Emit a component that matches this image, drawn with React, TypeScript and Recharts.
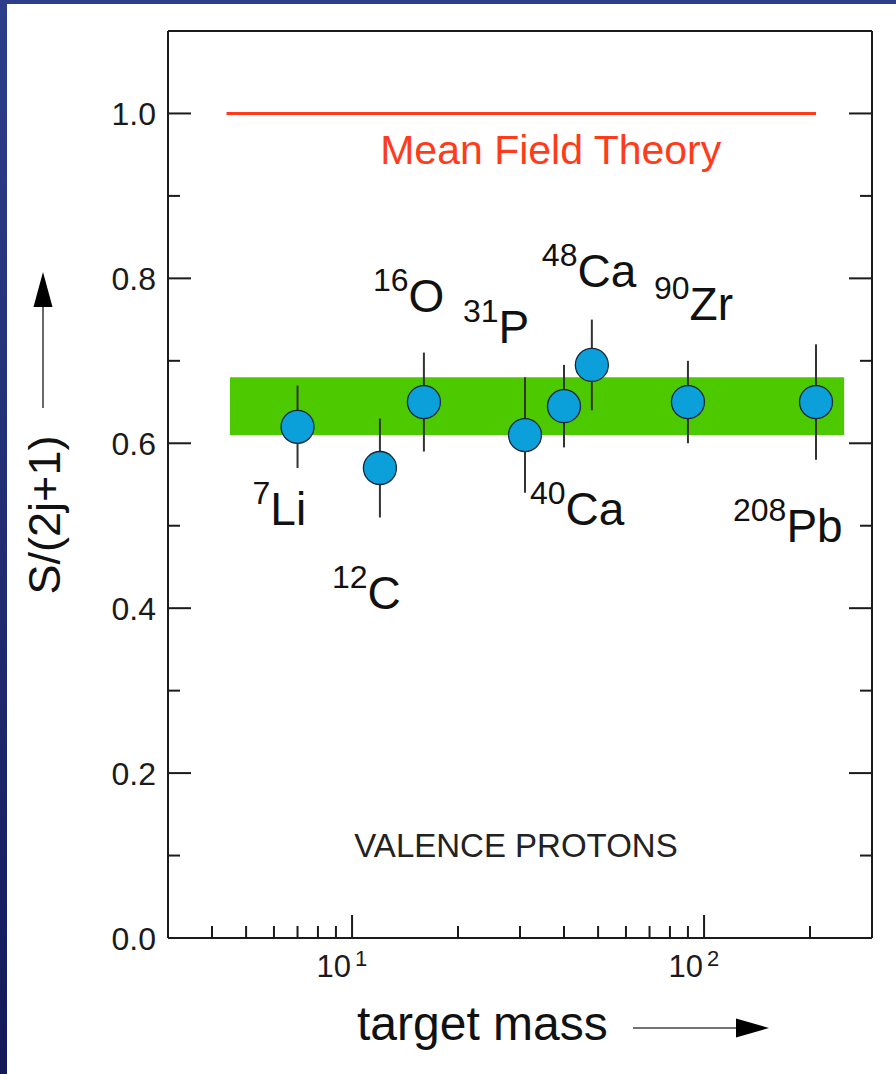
import React from 'react'
import {
  ComposedChart,
  Scatter,
  ErrorBar,
  XAxis,
  YAxis,
  ReferenceArea,
  ReferenceLine,
} from 'recharts'

// valence proton spectroscopic factors, reduced S/(2j+1)
const massNumbers = [7, 12, 16, 31, 40, 48, 90, 208]
const elements = ['Li', 'C', 'O', 'P', 'Ca', 'Ca', 'Zr', 'Pb']
const reducedS = [0.62, 0.57, 0.65, 0.61, 0.645, 0.695, 0.65, 0.65]
const reducedSErr = [0.05, 0.06, 0.06, 0.07, 0.05, 0.055, 0.05, 0.07]

// quenched band and mean field expectation
const bandValues = [0.61, 0.68]
const bandMass = [4.5, 250]
const meanFieldValue = 1.0
const meanFieldMass = [4.4, 208]

const xTicks = [4, 5, 6, 7, 8, 9, 10, 20, 30, 40, 50, 60, 70, 80, 90, 100, 200]
const xTickLabels: Record<number, string> = { 10: '1', 100: '2' }
const yTicks = [0, 0.1, 0.2, 0.3, 0.4, 0.5, 0.6, 0.7, 0.8, 0.9, 1.0]

// where each isotope label sits relative to its point (px)
const labelOffsets = [
  [-45, 98],
  [-48, 141],
  [-51, -90],
  [-62, -92],
  [-34, 119],
  [-50, -78],
  [-34, -82],
  [-83, 140],
]

const points = massNumbers.map((m, i) => ({
  mass: m,
  value: reducedS[i],
  err: reducedSErr[i],
  element: elements[i],
  idx: i,
}))

const FONT = '"Liberation Sans", Arial, Helvetica, sans-serif'
const INK = '#1b1b1b'
const RED = '#ff3b1a'

const isMajorY = (v: number) => Math.round(v * 10) % 2 === 0
const isMajorX = (v: number) => v === 10 || v === 100

function LeftTick({ x, y, payload }: any) {
  const major = isMajorY(payload.value)
  return (
    <g>
      <line x1={x} x2={x + (major ? 23 : 12)} y1={y} y2={y} stroke={INK} strokeWidth={2} />
      {major && (
        <text x={x - 12} y={y} dy="0.36em" textAnchor="end" fontSize={32} fill={INK} fontFamily={FONT}>
          {payload.value.toFixed(1)}
        </text>
      )}
    </g>
  )
}

function RightTick({ x, y, payload }: any) {
  const major = isMajorY(payload.value)
  return <line x1={x} x2={x - (major ? 23 : 12)} y1={y} y2={y} stroke={INK} strokeWidth={2} />
}

function BottomTick({ x, y, payload }: any) {
  const major = isMajorX(payload.value)
  return (
    <g>
      <line x1={x} x2={x} y1={y} y2={y - (major ? 23 : 12)} stroke={INK} strokeWidth={2} />
      {major && (
        <g fill={INK} fontFamily={FONT}>
          <text x={x - 1} y={y + 39} textAnchor="end" fontSize={31}>
            10
          </text>
          <text x={x + 3} y={y + 28} fontSize={22}>
            {xTickLabels[payload.value]}
          </text>
        </g>
      )}
    </g>
  )
}

function TopTick({ x, y, payload }: any) {
  const major = isMajorX(payload.value)
  return <line x1={x} x2={x} y1={y} y2={y + (major ? 23 : 12)} stroke={INK} strokeWidth={2} />
}

function IsotopeDot({ cx, cy, payload }: any) {
  const [dx, dy] = labelOffsets[payload.idx]
  return (
    <g>
      <circle cx={cx} cy={cy} r={16.5} fill="#0ca0da" stroke="#10283c" strokeWidth={1.3} />
      <text x={cx + dx} y={cy + dy} fill="#111" fontFamily={FONT}>
        <tspan fontSize={32} dy={-21}>{payload.mass}</tspan>
        <tspan fontSize={46} dy={21}>{payload.element}</tspan>
      </text>
    </g>
  )
}

const NoDot = () => <g />

function MassTitle({ viewBox }: any) {
  const { x, y } = viewBox
  return (
    <g fontFamily={FONT}>
      <text x={x + 348} y={y - 81} textAnchor="middle" fontSize={33} fill="#222">
        VALENCE PROTONS
      </text>
      <text x={x + 189} y={y + 102} fontSize={48} fill="#111">
        target mass
      </text>
      <line x1={x + 465} x2={x + 572} y1={y + 90} y2={y + 90} stroke="#444" strokeWidth={1.6} />
      <polygon points={`${x + 568},${y + 80.5} ${x + 601},${y + 90} ${x + 568},${y + 99.5}`} fill="#000" />
    </g>
  )
}

function SpecTitle({ viewBox }: any) {
  const { x, y, width } = viewBox
  const ax = x + width
  const tx = ax - 108
  const ty = y + 484
  return (
    <g fontFamily={FONT}>
      <text x={tx} y={ty} textAnchor="middle" fontSize={45} fill="#111" transform={`rotate(-90, ${tx}, ${ty})`}>
        S/(2j+1)
      </text>
      <line x1={ax - 125} x2={ax - 125} y1={y + 377} y2={y + 270} stroke="#444" strokeWidth={1.6} />
      <polygon points={`${ax - 134.5},${y + 276} ${ax - 125},${y + 241} ${ax - 115.5},${y + 276}`} fill="#000" />
    </g>
  )
}

function MeanFieldLabel({ viewBox }: any) {
  const { x, y, width } = viewBox
  return (
    <text x={x + width * 0.55} y={y + 51} textAnchor="middle" fontSize={41} fill={RED} fontFamily={FONT}>
      Mean Field Theory
    </text>
  )
}

export default function App() {
  return (
    <div
      style={{
        position: 'fixed',
        top: 0,
        left: 0,
        width: 896,
        height: 1074,
        background: 'linear-gradient(180deg, #2d3e8a 0%, #1e2a6e 60%, #121a58 100%)',
      }}
    >
      <div style={{ position: 'absolute', left: 7, top: 4, right: 0, bottom: 0, background: '#fff' }} />
      <ComposedChart
        width={896}
        height={1074}
        margin={{ top: 30, right: 23, bottom: 135, left: 167 }}
        style={{ position: 'absolute', top: 0, left: 0 }}
      >
        <XAxis
          dataKey="mass"
          type="number"
          scale="log"
          domain={[3, 300]}
          allowDataOverflow
          ticks={xTicks}
          interval={0}
          height={1}
          tickSize={0}
          tickMargin={0}
          tick={<BottomTick />}
          axisLine={{ stroke: INK, strokeWidth: 2 }}
          tickLine={false}
          label={<MassTitle />}
        />
        <XAxis
          xAxisId="top"
          orientation="top"
          type="number"
          scale="log"
          domain={[3, 300]}
          allowDataOverflow
          ticks={xTicks}
          interval={0}
          height={1}
          tickSize={0}
          tickMargin={0}
          tick={<TopTick />}
          axisLine={{ stroke: INK, strokeWidth: 2 }}
          tickLine={false}
        />
        <YAxis
          dataKey="value"
          type="number"
          domain={[0, 1.1]}
          allowDataOverflow
          ticks={yTicks}
          interval={0}
          width={1}
          tickSize={0}
          tickMargin={0}
          tick={<LeftTick />}
          axisLine={{ stroke: INK, strokeWidth: 2 }}
          tickLine={false}
          label={<SpecTitle />}
        />
        <YAxis
          yAxisId="right"
          orientation="right"
          type="number"
          domain={[0, 1.1]}
          allowDataOverflow
          ticks={yTicks}
          interval={0}
          width={1}
          tickSize={0}
          tickMargin={0}
          tick={<RightTick />}
          axisLine={{ stroke: INK, strokeWidth: 2 }}
          tickLine={false}
        />
        <ReferenceArea
          x1={bandMass[0]}
          x2={bandMass[1]}
          y1={bandValues[0]}
          y2={bandValues[1]}
          fill="#4dc900"
          fillOpacity={1}
          stroke="none"
        />
        <ReferenceLine
          segment={[
            { x: meanFieldMass[0], y: meanFieldValue },
            { x: meanFieldMass[1], y: meanFieldValue },
          ]}
          stroke={RED}
          strokeWidth={3}
          label={<MeanFieldLabel />}
        />
        <Scatter data={points} dataKey="value" shape={<NoDot />} isAnimationActive={false}>
          <ErrorBar dataKey="err" direction="y" width={0} stroke="#333" strokeWidth={2} isAnimationActive={false} />
        </Scatter>
        <Scatter data={points} dataKey="value" shape={<IsotopeDot />} isAnimationActive={false} />
      </ComposedChart>
    </div>
  )
}
